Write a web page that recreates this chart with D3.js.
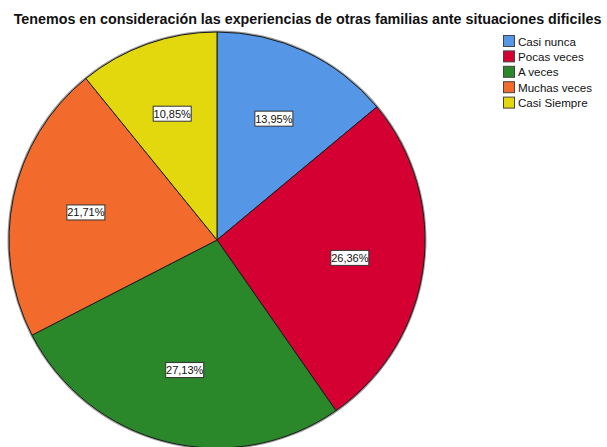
<!DOCTYPE html>
<html><head><meta charset="utf-8">
<script src="https://cdn.jsdelivr.net/npm/d3@7"></script>
<style>body{margin:0;background:#fff}svg{display:block}</style>
</head><body>
<script>
const title = "Tenemos en consideración las experiencias de otras familias ante situaciones dificiles";
const categories = ["Casi nunca", "Pocas veces", "A veces", "Muchas veces", "Casi Siempre"];
const values = [13.95, 26.36, 27.13, 21.71, 10.85];
const labels = ["13,95%", "26,36%", "27,13%", "21,71%", "10,85%"];
const colors = ["#5596e6", "#d50032", "#2a872a", "#f26b2c", "#e3d70e"];

const W = 607, H = 447;
const svg = d3.select("body").append("svg").attr("width", W).attr("height", H);

svg.append("text").attr("x", 307.5).attr("y", 24).attr("text-anchor", "middle")
  .attr("font-family", "Liberation Sans, Arial, sans-serif").attr("font-weight", "bold")
  .attr("font-size", 14.3).attr("fill", "#111").text(title);

const cx = 217, cy = 240, r = 208;
const data = categories.map((c, i) => ({cat: c, value: values[i], label: labels[i], color: colors[i]}));
const pie = d3.pie().sort(null).value(d => d.value);
const arcs = pie(data);
const arc = d3.arc().innerRadius(0).outerRadius(r);
const labelArc = d3.arc().innerRadius(134).outerRadius(134);

const g = svg.append("g").attr("transform", `translate(${cx},${cy})`);
g.append("circle").attr("r", r + 0.5).attr("fill", "none").attr("stroke", "#999").attr("stroke-width", 2);
g.selectAll("path.slice").data(arcs).join("path").attr("class", "slice")
  .attr("d", arc).attr("fill", d => d.data.color)
  .attr("stroke", "#1a1a1a").attr("stroke-width", 1);

const lg = g.selectAll("g.lbl").data(arcs).join("g").attr("class", "lbl")
  .attr("transform", d => `translate(${labelArc.centroid(d)})`);
lg.append("rect").attr("x", -19).attr("y", -7.5).attr("width", 38).attr("height", 15)
  .attr("fill", "#fff").attr("stroke", "#333").attr("stroke-width", 1);
lg.append("text").attr("text-anchor", "middle").attr("y", 4)
  .attr("font-family", "Liberation Sans, Arial, sans-serif").attr("font-size", 11)
  .attr("fill", "#111").text(d => d.data.label);

const leg = svg.append("g").attr("transform", "translate(503,35)");
const li = leg.selectAll("g").data(data).join("g")
  .attr("transform", (d, i) => `translate(0,${i * 15.4})`);
li.append("rect").attr("x", 0.5).attr("y", 0.5).attr("width", 11).attr("height", 11)
  .attr("fill", d => d.color).attr("stroke", "#444").attr("stroke-width", 1);
li.append("text").attr("x", 15).attr("y", 10.5)
  .attr("font-family", "Liberation Sans, Arial, sans-serif").attr("font-size", 11.6)
  .attr("fill", "#111").text(d => d.cat);
</script>
</body></html>
